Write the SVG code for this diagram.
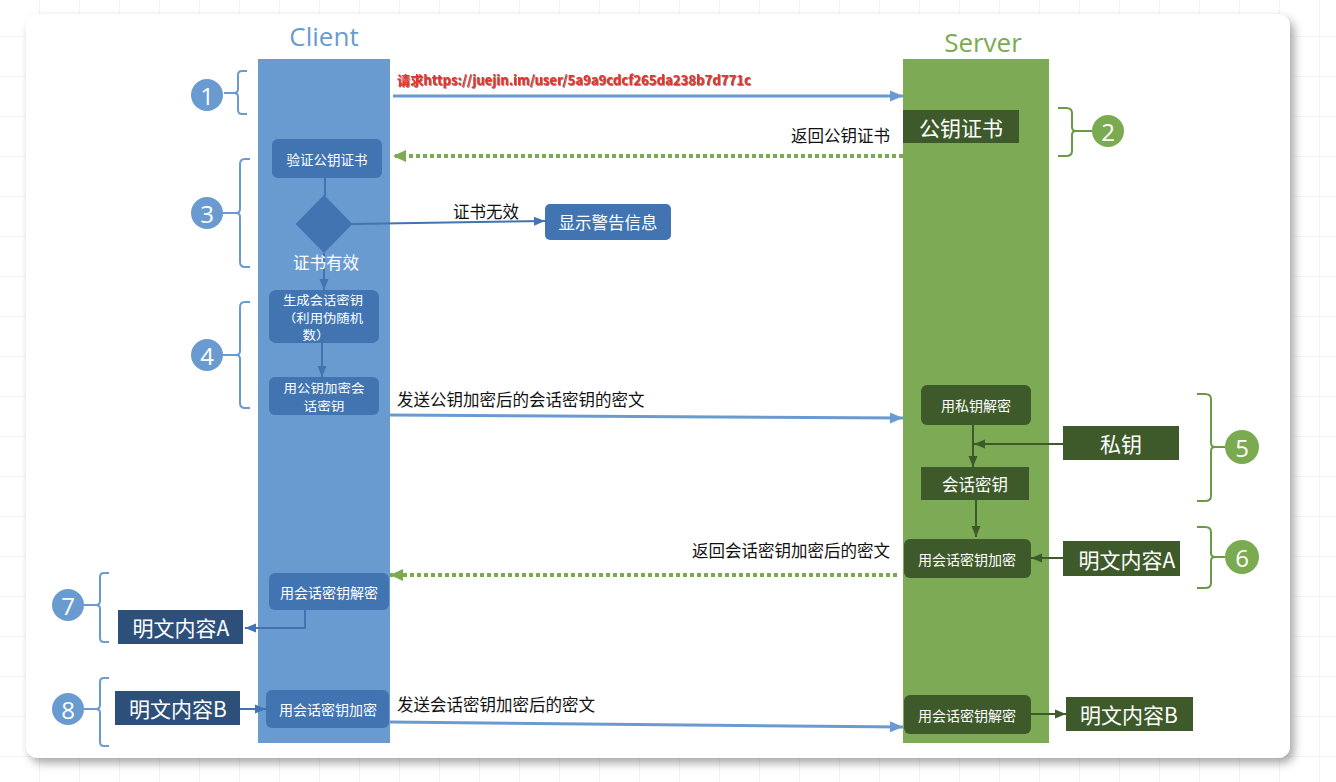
<svg xmlns="http://www.w3.org/2000/svg" width="1336" height="782" viewBox="0 0 1336 782">
<defs>
<pattern id="grid" patternUnits="userSpaceOnUse" x="-1" y="-4" width="40" height="40">
<path d="M0,0 H40 M0,0 V40" fill="none" stroke="#ebebeb" stroke-width="1.2"/>
</pattern>
<filter id="shadow" x="-5%" y="-5%" width="110%" height="112%">
<feDropShadow dx="4" dy="5" stdDeviation="5" flood-color="#000" flood-opacity="0.35"/>
</filter>
<filter id="tshadow" x="-2%" y="-30%" width="104%" height="160%">
<feDropShadow dx="0.8" dy="0.8" stdDeviation="0.6" flood-color="#5a1010" flood-opacity="0.7"/>
</filter>
<marker id="ab" markerUnits="userSpaceOnUse" markerWidth="14" markerHeight="14" viewBox="0 0 14 14" refX="13" refY="7" orient="auto">
<path d="M0,1.5 L13,7 L0,12.5 Z" fill="#6a9bd0"/>
</marker>
<marker id="ag" markerUnits="userSpaceOnUse" markerWidth="14" markerHeight="14" viewBox="0 0 14 14" refX="13" refY="7" orient="auto">
<path d="M0,1 L13,7 L0,13 Z" fill="#7aab50"/>
</marker>
<marker id="adb" markerUnits="userSpaceOnUse" markerWidth="12" markerHeight="12" viewBox="0 0 12 12" refX="11" refY="6" orient="auto">
<path d="M0,1.5 L11,6 L0,10.5 Z" fill="#4174b0"/>
</marker>
<marker id="adg" markerUnits="userSpaceOnUse" markerWidth="12" markerHeight="12" viewBox="0 0 12 12" refX="11" refY="6" orient="auto">
<path d="M0,1.5 L11,6 L0,10.5 Z" fill="#3e5a2a"/>
</marker>
</defs>
<style>
.cjk{font-family:"Noto Sans CJK SC","Microsoft YaHei",sans-serif;}
.lat{font-family:"Open Sans","Noto Sans",sans-serif;}
.wb{fill:#ffffff;text-anchor:middle;dominant-baseline:central;}
.lbl{fill:#111111;font-size:16.5px;}
.bbox{fill:#4174b0;}
.dbox{fill:#2c5079;}
.gbox{fill:#3e5a2a;}
.num{fill:#ffffff;font-size:24px;text-anchor:middle;dominant-baseline:central;}
.cb{fill:#6a9bd0;}
.cg{fill:#7aab50;}
.brb{fill:none;stroke:#6a9bd0;stroke-width:2;}
.brg{fill:none;stroke:#6b9a45;stroke-width:2;}
.lnb{fill:none;stroke:#6a9bd0;stroke-width:3;}
.lng{fill:none;stroke:#7aab50;stroke-width:4;stroke-dasharray:4 3;}
.lnd{fill:none;stroke:#4174b0;stroke-width:2;}
.lndg{fill:none;stroke:#3e5a2a;stroke-width:2;}
</style>

<rect width="1336" height="782" fill="#ffffff"/>
<rect width="1336" height="782" fill="url(#grid)"/>
<rect x="26" y="14" width="1264" height="744" rx="12" fill="#ffffff" filter="url(#shadow)"/>

<g id="client-lane">
<rect x="258" y="59" width="132" height="684" fill="#6a9bd0"/>
<text x="324" y="46" class="lat" font-size="26" fill="#6a9bd0" text-anchor="middle">Client</text>
</g>
<g id="server-lane">
<rect x="903" y="59" width="146" height="684" fill="#7dab55"/>
<text x="983" y="52" class="lat" font-size="26" fill="#7aab50" text-anchor="middle">Server</text>
</g>

<g id="connectors">
<line x1="393" y1="96" x2="903" y2="96" class="lnb" marker-end="url(#ab)"/>
<line x1="903" y1="156" x2="393" y2="156" class="lng" marker-end="url(#ag)"/>
<line x1="325" y1="178" x2="325" y2="196" class="lnd"/>
<line x1="352" y1="224" x2="545" y2="221" class="lnd" marker-end="url(#adb)"/>
<line x1="324" y1="253" x2="324" y2="290" class="lnd" marker-end="url(#adb)"/>
<line x1="322" y1="343" x2="322" y2="377" class="lnd" marker-end="url(#adb)"/>
<line x1="390" y1="415" x2="903" y2="418" class="lnb" marker-end="url(#ab)"/>
<line x1="973" y1="425" x2="973" y2="467" class="lndg" marker-end="url(#adg)"/>
<line x1="1063" y1="444" x2="974" y2="444" class="lndg" marker-end="url(#adg)"/>
<line x1="976" y1="500" x2="976" y2="537" class="lndg" marker-end="url(#adg)"/>
<line x1="1063" y1="558" x2="1031" y2="558" class="lndg" marker-end="url(#adg)"/>
<line x1="897" y1="575" x2="390" y2="575" class="lng" marker-end="url(#ag)"/>
<polyline points="305,610 305,628 245,628" class="lnd" marker-end="url(#adb)"/>
<line x1="240" y1="709" x2="266" y2="709" class="lnd" marker-end="url(#adb)"/>
<line x1="390" y1="722" x2="903" y2="727" class="lnb" marker-end="url(#ab)"/>
<line x1="1031" y1="714" x2="1066" y2="714" class="lndg" marker-end="url(#adg)"/>

<text x="397" y="85" class="cjk" font-size="13" font-weight="bold" fill="#e8312a" textLength="354" lengthAdjust="spacingAndGlyphs" filter="url(#tshadow)">请求https://juejin.im/user/5a9a9cdcf265da238b7d771c</text>
<text x="890" y="142" class="cjk lbl" text-anchor="end">返回公钥证书</text>
<text x="486" y="218" class="cjk lbl" text-anchor="middle">证书无效</text>
<text x="397" y="406" class="cjk lbl">发送公钥加密后的会话密钥的密文</text>
<text x="890" y="557" class="cjk lbl" text-anchor="end">返回会话密钥加密后的密文</text>
<text x="397" y="711" class="cjk lbl">发送会话密钥加密后的密文</text>
</g>

<g id="step1">
<path d="M247,71 H242 Q238,71 238,75 V89 Q238,93 234,93 H224 M234,93 Q238,93 238,97 V110 Q238,114 242,114 H247" class="brb"/>
<circle cx="207" cy="95" r="16" class="cb"/>
<text x="207" y="95" class="lat num">1</text>
</g>

<g id="step2">
<path d="M1058,108 H1066 Q1072,108 1072,113 V127 Q1072,131 1076,131 H1092 M1076,131 Q1072,131 1072,135 V151 Q1072,156 1066,156 H1058" class="brg"/>
<circle cx="1108" cy="131" r="16" class="cg"/>
<text x="1108" y="131" class="lat num">2</text>
</g>
<g id="pubcert">
<rect x="903" y="110" width="116" height="33" class="gbox"/>
<text x="961" y="127" class="cjk wb" font-size="21">公钥证书</text>
</g>

<g id="step3">
<path d="M250,159 H245 Q240,159 240,164 V209 Q240,213 236,213 H223 M236,213 Q240,213 240,217 V262 Q240,267 245,267 H250" class="brb"/>
<circle cx="207" cy="213" r="16" class="cb"/>
<text x="207" y="213" class="lat num">3</text>
</g>
<g id="verify">
<rect x="272" y="139" width="110" height="39" rx="6" class="bbox"/>
<text x="327" y="158.5" class="cjk wb" font-size="13.5">验证公钥证书</text>
</g>
<g id="decision">
<path d="M324,195 L352.5,224 L324,253 L295.5,224 Z" fill="#4174b0"/>
<text x="326" y="262" class="cjk wb" font-size="16.5">证书有效</text>
</g>
<g id="warning">
<rect x="545" y="204" width="126" height="36" rx="5" class="bbox"/>
<text x="608" y="222" class="cjk wb" font-size="16.5">显示警告信息</text>
</g>

<g id="step4">
<path d="M250,302 H245 Q240,302 240,307 V351 Q240,355 236,355 H223 M236,355 Q240,355 240,359 V403 Q240,408 245,408 H250" class="brb"/>
<circle cx="207" cy="355" r="16" class="cb"/>
<text x="207" y="355" class="lat num">4</text>
</g>
<g id="genkey">
<rect x="269" y="290" width="110" height="53" rx="7" class="bbox"/>
<text x="323" y="299.5" class="cjk wb" font-size="12" textLength="80" lengthAdjust="spacingAndGlyphs">生成会话密钥</text>
<text x="323" y="317" class="cjk wb" font-size="12" textLength="80" lengthAdjust="spacingAndGlyphs">（利用伪随机</text>
<text x="316" y="334.5" class="cjk wb" font-size="12" textLength="27" lengthAdjust="spacingAndGlyphs">数）</text>
</g>
<g id="encsession">
<rect x="269" y="377" width="110" height="38" rx="6" class="bbox"/>
<text x="324" y="387.5" class="cjk wb" font-size="12" textLength="81" lengthAdjust="spacingAndGlyphs">用公钥加密会</text>
<text x="324" y="405" class="cjk wb" font-size="12" textLength="41" lengthAdjust="spacingAndGlyphs">话密钥</text>
</g>

<g id="step5">
<path d="M1197,394 H1205 Q1211,394 1211,399 V443 Q1211,447 1215,447 H1226 M1215,447 Q1211,447 1211,451 V496 Q1211,501 1205,501 H1197" class="brg"/>
<circle cx="1242" cy="447" r="17" class="cg"/>
<text x="1242" y="447" class="lat num">5</text>
</g>
<g id="privdecrypt">
<rect x="921" y="385" width="110" height="40" rx="6" class="gbox"/>
<text x="976" y="405" class="cjk wb" font-size="14">用私钥解密</text>
</g>
<g id="privkey">
<rect x="1063" y="426" width="116" height="34" class="gbox"/>
<text x="1121" y="443" class="cjk wb" font-size="21">私钥</text>
</g>
<g id="sessionkey">
<rect x="921" y="467" width="108" height="33" class="gbox"/>
<text x="975" y="483.5" class="cjk wb" font-size="16.5">会话密钥</text>
</g>

<g id="step6">
<path d="M1197,527 H1205 Q1211,527 1211,532 V553 Q1211,557 1215,557 H1226 M1215,557 Q1211,557 1211,561 V583 Q1211,588 1205,588 H1197" class="brg"/>
<circle cx="1242" cy="557" r="17" class="cg"/>
<text x="1242" y="557" class="lat num">6</text>
</g>
<g id="srvencrypt">
<rect x="904" y="539" width="127" height="39" rx="6" class="gbox"/>
<text x="967" y="558.5" class="cjk wb" font-size="14">用会话密钥加密</text>
</g>
<g id="plainA-srv">
<rect x="1063" y="541" width="117" height="35" class="gbox"/>
<text x="1127" y="558.5" class="cjk wb" font-size="21">明文内容A</text>
</g>

<g id="step7">
<path d="M109,573 H104 Q100,573 100,577 V601 Q100,605 96,605 H84 M96,605 Q100,605 100,609 V638 Q100,642 104,642 H109" class="brb"/>
<circle cx="68" cy="605" r="16" class="cb"/>
<text x="68" y="605" class="lat num">7</text>
</g>
<g id="cltdecrypt">
<rect x="269" y="573" width="120" height="37" rx="6" class="bbox"/>
<text x="329" y="591.5" class="cjk wb" font-size="14">用会话密钥解密</text>
</g>
<g id="plainA-clt">
<rect x="118" y="610" width="125" height="34" class="dbox"/>
<text x="181" y="627" class="cjk wb" font-size="21">明文内容A</text>
</g>

<g id="step8">
<path d="M109,678 H104 Q100,678 100,682 V705 Q100,709 96,709 H84 M96,709 Q100,709 100,713 V742 Q100,746 104,746 H109" class="brb"/>
<circle cx="68" cy="709" r="16" class="cb"/>
<text x="68" y="709" class="lat num">8</text>
</g>
<g id="plainB-clt">
<rect x="115" y="691" width="125" height="34" class="dbox"/>
<text x="178" y="708" class="cjk wb" font-size="21">明文内容B</text>
</g>
<g id="cltencrypt">
<rect x="266" y="690" width="123" height="38" rx="6" class="bbox"/>
<text x="328" y="709" class="cjk wb" font-size="14">用会话密钥加密</text>
</g>
<g id="srvdecrypt">
<rect x="904" y="695" width="127" height="39" rx="6" class="gbox"/>
<text x="967" y="714.5" class="cjk wb" font-size="14">用会话密钥解密</text>
</g>
<g id="plainB-srv">
<rect x="1066" y="697" width="127" height="34" class="gbox"/>
<text x="1129" y="714" class="cjk wb" font-size="21">明文内容B</text>
</g>
</svg>
